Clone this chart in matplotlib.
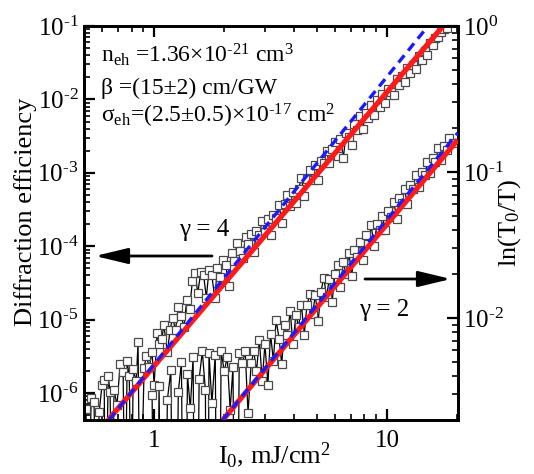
import matplotlib
matplotlib.use('Agg')
import matplotlib.pyplot as plt
from matplotlib.ticker import LogLocator, NullFormatter, FixedLocator, FixedFormatter

plt.rcParams['font.family'] = 'serif'
plt.rcParams['font.serif'] = ['Liberation Serif', 'DejaVu Serif']
plt.rcParams['mathtext.fontset'] = 'custom'
plt.rcParams['mathtext.rm'] = 'Liberation Serif'
plt.rcParams['mathtext.it'] = 'Liberation Serif:italic'
plt.rcParams['mathtext.bf'] = 'Liberation Serif:bold'

# ---- data: diffraction efficiency (left axis, gamma = 4) ----
intensity_A = [0.51, 0.52, 0.537, 0.552, 0.565, 0.581, 0.598, 0.610, 0.62, 0.635, 0.647, 0.66, 0.673,
               0.693, 0.715, 0.736, 0.75, 0.766, 0.782, 0.80, 0.813, 0.838, 0.853, 0.87, 0.906, 0.925,
               0.953, 0.98, 1.0, 1.03, 1.05, 1.08, 1.10, 1.14, 1.17,
               1.20, 1.236, 1.27, 1.306, 1.343, 1.38, 1.42, 1.46, 1.50, 1.54, 1.585, 1.63, 1.675, 1.72,
               1.77, 1.82, 1.87, 1.92, 1.98, 2.03, 2.09, 2.15, 2.21, 2.27, 2.33, 2.40, 2.47, 2.54, 2.61,
               2.68, 2.75, 2.83, 2.91, 2.99, 3.08, 3.16, 3.25, 3.34, 3.44, 3.53, 3.63, 3.73, 3.84, 3.94,
               4.06, 4.17, 4.29, 4.41, 4.53, 4.66, 4.79, 4.92, 5.06, 5.20, 5.35, 5.50, 5.65, 5.81, 5.97,
               6.14, 6.31, 6.49, 6.67, 6.86, 7.05, 7.24, 7.45, 7.66, 7.87, 8.09, 8.32, 8.55, 8.79, 9.04,
               9.29, 9.55, 9.82, 10.1, 10.4, 10.7, 11.0, 11.3, 11.6, 11.9, 12.2, 12.6, 12.9, 13.3, 13.7,
               14.1, 14.5, 14.9, 15.3, 15.7, 16.1, 16.6, 17.1, 17.6, 18.1]
efficiency_A = [6.0e-7, 1e-8, 8.7e-7, 7.6e-7, 1e-8, 5.6e-7, 1.3e-6, 1.5e-6, 1e-8, 1.7e-6, 1.05e-6, 1e-8,
                1.1e-6, 6.9e-7, 2.5e-6, 1.95e-6, 1e-8, 2.7e-6, 1.7e-6, 1e-8, 2.1e-6, 1.45e-6, 4.9e-6,
                1e-8, 2.2e-6, 3.2e-6, 2.3e-6, 3.6e-6, 1.3e-6, 6.6e-6, 4.6e-6, 5.4e-6, 8.5e-6, 3.6e-6, 7.2e-6,
                1.05e-5, 7.3e-6, 1.5e-5, 1.12e-5, 7.9e-6, 1.86e-5, 1.38e-5, 3.4e-5, 4.3e-5, 2.3e-5,
                4.4e-5, 4.1e-5, 2.0e-5, 4.7e-5, 4.0e-5, 1.95e-5, 5.0e-5, 3.8e-5, 6.6e-5, 5.5e-5, 2.9e-5,
                8.1e-5, 6.3e-5, 1.12e-4, 8.7e-5, 6.9e-5, 1.35e-4, 1.07e-4, 1.48e-4, 8.3e-5, 1.62e-4,
                1.44e-4, 2.24e-4, 1.58e-4, 2.35e-4, 1.44e-4, 2.7e-4, 2.4e-4, 3.7e-4, 2.1e-4, 3.8e-4,
                5.0e-4, 3.5e-4, 5.5e-4, 3.9e-4, 6.0e-4, 8.5e-4, 4.9e-4, 8.3e-4, 1.1e-3, 8.1e-4, 1.26e-3,
                7.9e-4, 1.45e-3, 1.38e-3, 2.0e-3, 1.35e-3, 2.1e-3, 2.6e-3, 1.7e-3, 2.9e-3, 1.6e-3, 3.5e-3,
                3.1e-3, 2.4e-3, 4.6e-3, 3.8e-3, 5.9e-3, 4.0e-3, 6.5e-3, 5.6e-3, 8.5e-3, 6.2e-3, 9.8e-3,
                8.0e-3, 1.17e-2, 9.0e-3, 1.38e-2, 1.26e-2, 1.15e-2, 1.9e-2, 1.58e-2, 2.1e-2, 1.74e-2,
                2.7e-2, 2.3e-2, 2.95e-2, 2.6e-2, 3.9e-2, 3.4e-2, 4.5e-2, 4.0e-2, 5.8e-2, 5.5e-2, 6.8e-2,
                7.1e-2, 8.3e-2, 9.1e-2, 9.5e-2]

# ---- data: ln(T0/T) (right axis, gamma = 2) ----
intensity_B = [0.98, 1.02, 1.05, 1.09, 1.14, 1.18, 1.22, 1.27, 1.31, 1.35, 1.39, 1.43, 1.47, 1.51, 1.56,
               1.61, 1.66, 1.69, 1.72, 1.77, 1.83, 1.88, 1.94, 2.0, 2.06, 2.12, 2.18, 2.25, 2.32, 2.39,
               2.46, 2.53, 2.61,
               2.68, 2.75, 2.83, 2.91, 2.99, 3.08, 3.16, 3.25, 3.34, 3.44, 3.53, 3.63, 3.73, 3.84, 3.94,
               4.06, 4.17, 4.29, 4.41, 4.53, 4.66, 4.79, 4.92, 5.06, 5.20, 5.35, 5.50, 5.65, 5.81, 5.97,
               6.14, 6.31, 6.49, 6.67, 6.86, 7.05, 7.24, 7.45, 7.66, 7.87, 8.09, 8.32, 8.55, 8.79, 9.04,
               9.29, 9.55, 9.82, 10.1, 10.4, 10.7, 11.0, 11.3, 11.6, 11.9, 12.2, 12.6, 12.9, 13.3, 13.7,
               14.1, 14.5, 14.9, 15.3, 15.7, 16.1, 16.6, 17.1, 17.5, 18.0, 18.5, 19.1]
lnT_B = [2.95e-3, 1e-5, 3.4e-3, 1e-5, 2.75e-3, 4.4e-3, 1e-5, 3.1e-3, 5.0e-3, 1e-5, 4.1e-3, 2.4e-3, 5.4e-3,
         1e-5, 3.8e-3, 5.9e-3, 3.2e-3, 1e-5, 5.75e-3, 2.6e-3, 5.6e-3, 1e-5, 5.9e-3, 4.3e-3, 5.4e-3,
         2.35e-3, 4.6e-3, 1e-5, 5.75e-3, 4.9e-3, 5.9e-3, 2.24e-3, 4.9e-3,
         5.9e-3, 4.3e-3, 7.1e-3, 3.7e-3, 6.6e-3, 3.5e-3, 7.8e-3, 5.1e-3, 9.7e-3, 7.2e-3, 4.8e-3, 8.9e-3,
         7.6e-3, 1.12e-2, 6.6e-3, 1.05e-2, 8.7e-3, 1.23e-2, 7.6e-3, 1.23e-2, 1.45e-2, 1.07e-2, 1.44e-2,
         9.5e-3, 1.51e-2, 1.88e-2, 1.4e-2, 1.86e-2, 1.29e-2, 2.0e-2, 2.3e-2, 1.63e-2, 2.4e-2, 2.0e-2,
         2.8e-2, 1.95e-2, 2.9e-2, 2.6e-2, 3.3e-2, 2.5e-2, 3.7e-2, 3.2e-2, 4.3e-2, 3.1e-2, 4.4e-2, 4.0e-2,
         5.0e-2, 4.0e-2, 5.4e-2, 4.9e-2, 6.2e-2, 4.8e-2, 6.6e-2, 6.1e-2, 7.7e-2, 6.0e-2, 8.2e-2, 7.7e-2,
         9.5e-2, 7.9e-2, 0.100, 9.5e-2, 0.117, 9.8e-2, 0.124, 0.117, 0.145, 0.120, 0.151, 0.141, 0.170,
         0.159]

# ---- fit lines (end points) ----
fit4_red_x = [0.635, 17.4]
fit4_red_y = [4.3e-7, 0.1]
fit4_blue_x = [0.64, 15.0]
fit4_blue_y = [4.3e-7, 0.1]
fit2_x = [1.97, 20.1]
fit2_red_y = [2.0e-3, 0.166]
fit2_blue_y = [2.0e-3, 0.185]

# ---- ticks ----
x_ticks = [1, 10]
x_tick_labels = ['1', '10']
left_ticks = [1e-6, 1e-5, 1e-4, 1e-3, 1e-2, 1e-1]
left_tick_labels = ['10$^{\\text{-}6}$', '10$^{\\text{-}5}$', '10$^{\\text{-}4}$',
                    '10$^{\\text{-}3}$', '10$^{\\text{-}2}$', '10$^{\\text{-}1}$']
right_ticks = [1e-2, 1e-1, 1.0]
right_tick_labels = ['10$^{\\text{-}2}$', '10$^{\\text{-}1}$', '10$^{0}$']

W, H = 534, 474
fig = plt.figure(figsize=(W / 100, H / 100), dpi=100)
L, R, T, B = 84, 457.7, 26, 420
ax = fig.add_axes([L / W, 1 - B / H, (R - L) / W, (B - T) / H])
ax2 = ax.twinx()

mk = dict(marker='s', ms=6.2, mfc='white', mec='#4a4a4a', mew=0.9)
ax.plot(intensity_A, efficiency_A, '-', color='black', lw=0.9, zorder=2, **mk)
ax.plot(fit4_red_x, fit4_red_y, color='#ff1a1a', lw=3.8, solid_capstyle='butt', zorder=3)
ax.plot(fit4_blue_x, fit4_blue_y, color='#1a1aff', lw=2.4, ls=(0, (2.8, 1.8)), zorder=4)

ax2.plot(intensity_B, lnT_B, '-', color='black', lw=0.9, zorder=2, **mk)
ax2.plot(fit2_x, fit2_red_y, color='#ff1a1a', lw=3.8, solid_capstyle='butt', zorder=3)
ax2.plot(fit2_x, fit2_blue_y, color='#1a1aff', lw=2.4, ls=(0, (2.8, 1.8)), zorder=4)

ax.set_xscale('log')
ax.set_yscale('log')
ax2.set_yscale('log')
ax.set_xlim(0.5, 20.1)
ax.set_ylim(4.3e-7, 0.1)
ax2.set_ylim(2.0e-3, 1.0)

ax.xaxis.set_major_locator(FixedLocator(x_ticks))
ax.xaxis.set_major_formatter(FixedFormatter(x_tick_labels))
ax.xaxis.set_minor_locator(LogLocator(base=10, subs=range(2, 10), numticks=20))
ax.xaxis.set_minor_formatter(NullFormatter())
ax.yaxis.set_major_locator(FixedLocator(left_ticks))
ax.yaxis.set_major_formatter(FixedFormatter(left_tick_labels))
ax2.yaxis.set_major_locator(FixedLocator(right_ticks))
ax2.yaxis.set_major_formatter(FixedFormatter(right_tick_labels))
for a in (ax, ax2):
    a.yaxis.set_minor_locator(LogLocator(base=10, subs=range(2, 10), numticks=20))
    a.yaxis.set_minor_formatter(NullFormatter())

ax.tick_params(which='both', direction='in', top=True, right=False, labelsize=18)
ax.tick_params(which='major', length=8, width=1.6, pad=4)
ax.tick_params(which='minor', length=4.5, width=1.2)
ax2.tick_params(which='both', direction='in', labelsize=18)
ax2.tick_params(which='major', length=8, width=1.6, pad=4)
ax2.tick_params(which='minor', length=4.5, width=1.2)
ax.tick_params(axis='x', pad=7)
for a in (ax, ax2):
    for s in a.spines.values():
        s.set_linewidth(2.0)

fig.text(26 / W, 1 - 212 / H, 'Diffraction efficiency', rotation=90, ha='center', va='center', fontsize=19)
fig.text(510 / W, 1 - 223 / H, 'ln(T$_0$/T)', rotation=90, ha='center', va='center', fontsize=19)
fig.text(274 / W, 1 - 463 / H, 'I$_0$, mJ/cm$^2$', ha='center', va='baseline', fontsize=19)

fs = 17
fig.text(101 / W, 1 - 62 / H, 'n$_{\\mathrm{eh}}$ =1.36×10$^{\\text{-}21}$ cm$^3$', ha='left', va='baseline', fontsize=fs)
fig.text(101 / W, 1 - 94 / H, 'β =(15±2) cm/GW', ha='left', va='baseline', fontsize=fs)
fig.text(101 / W, 1 - 123 / H, 'σ$_{\\mathrm{eh}}$=(2.5±0.5)×10$^{\\text{-}17}$ cm$^2$', ha='left', va='baseline', fontsize=fs)

fig.text(204 / W, 1 - 230 / H, 'γ = 4', ha='center', va='center', fontsize=18)
fig.text(384 / W, 1 - 310 / H, 'γ = 2', ha='center', va='center', fontsize=18)

arrow = dict(arrowstyle='-|>,head_length=1.0,head_width=0.24', mutation_scale=20, lw=2.0, color='black',
             shrinkA=0, shrinkB=0)
ax.annotate('', xy=(95, H - 256), xytext=(212, H - 256), xycoords='figure pixels',
            textcoords='figure pixels', arrowprops=arrow)
ax.annotate('', xy=(451, H - 279), xytext=(365, H - 279), xycoords='figure pixels',
            textcoords='figure pixels', arrowprops=arrow)

fig.savefig('out.png', dpi=100)
